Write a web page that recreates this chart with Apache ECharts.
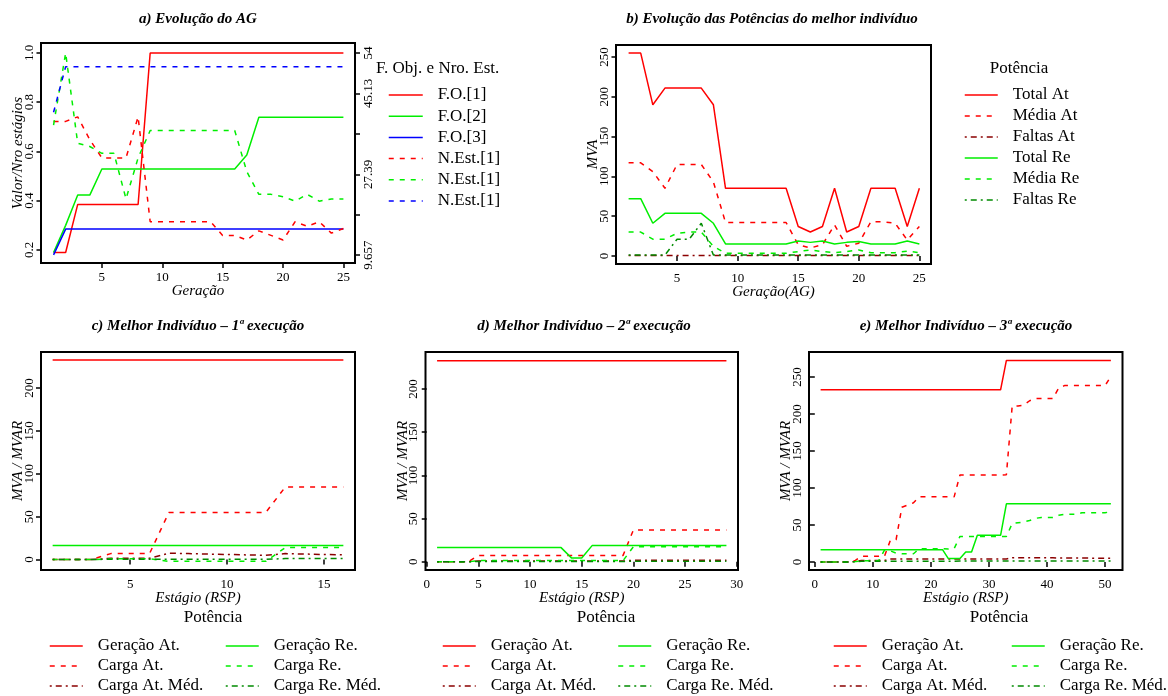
<!DOCTYPE html>
<html>
<head>
<meta charset="utf-8">
<script src="https://cdn.jsdelivr.net/npm/echarts@6.0.0/dist/echarts.min.js"></script>
<style>
  html, body { margin: 0; padding: 0; background: #fff; }
  #main { width: 1168px; height: 696px; }
</style>
</head>
<body>
<div id="main"></div>
<script>
// a) Evolucao do AG -- F.O. on the left scale, number of stages on the right one
var fo1 = [0.19, 0.19, 0.385, 0.385, 0.385, 0.385, 0.385, 0.385, 1, 1, 1, 1, 1, 1, 1, 1, 1, 1, 1, 1, 1, 1, 1, 1, 1]
var fo2 = [0.19, 0.30, 0.423, 0.423, 0.529, 0.529, 0.529, 0.529, 0.529, 0.529, 0.529, 0.529, 0.529, 0.529, 0.529, 0.529, 0.586, 0.739, 0.739, 0.739, 0.739, 0.739, 0.739, 0.739, 0.739]
var fo3 = [0.18, 0.285, 0.285, 0.285, 0.285, 0.285, 0.285, 0.285, 0.285, 0.285, 0.285, 0.285, 0.285, 0.285, 0.285, 0.285, 0.285, 0.285, 0.285, 0.285, 0.285, 0.285, 0.285, 0.285, 0.285]
var nEst1 = [39, 39, 40, 35, 31, 31, 31, 40, 17, 17, 17, 17, 17, 17, 14, 14, 13, 15, 14, 13, 17, 16, 17, 14.5, 15.5]
var nEst2 = [38.2, 54, 34.2, 33.5, 32, 32, 22, 31, 37, 37, 37, 37, 37, 37, 37, 37, 28, 23, 23, 22.5, 21.5, 23, 21.5, 22, 22]
var nEst3 = [41, 51, 51, 51, 51, 51, 51, 51, 51, 51, 51, 51, 51, 51, 51, 51, 51, 51, 51, 51, 51, 51, 51, 51, 51]
var maxEst = 54
var estTicks = [9.657, 18.5256, 27.3942, 36.2628, 45.1314, 54]
var estLabels = [9.657, 27.39, 45.13, 54]

// b) Evolucao das potencias do melhor individuo
var totalAt = [255, 255, 190, 211, 211, 211, 211, 190, 85, 85, 85, 85, 85, 85, 37, 30, 37, 85, 30, 37, 85, 85, 85, 37, 85]
var mediaAt = [117, 117, 106, 85, 115, 115, 115, 93, 42, 42, 42, 42, 42, 42, 14, 10, 14, 39, 12, 16, 43, 43, 41, 20, 37]
var faltasAt = [0.5, 0.5, 0.5, 0.5, 0.5, 0.5, 0.5, 0.5, 0.5, 0.5, 0.5, 0.5, 0.5, 0.5, 0.5, 0.5, 0.5, 0.5, 0.5, 0.5, 0.5, 0.5, 0.5, 0.5, 0.5]
var totalRe = [72, 72, 41, 53.5, 53.5, 53.5, 53.5, 41, 15, 15, 15, 15, 15, 15, 18.8, 17, 18.8, 15, 17, 18, 15, 15, 15, 18.8, 15]
var mediaRe = [30, 30, 21, 21, 28.5, 30, 30, 12, 3.3, 3.3, 3.3, 3.3, 3.3, 3.3, 5.4, 7.5, 5.4, 4, 5.4, 7.5, 4, 4, 4, 6, 4]
var faltasRe = [1, 1, 1, 1, 21, 21, 41, 1, 1, 1, 1, 1, 1, 1, 1, 1, 1, 1, 1, 1, 1, 1, 1, 1, 1]

// c) 1a execucao (16 estagios)
var genAtC = [232.8, 232.8, 232.8, 232.8, 232.8, 232.8, 232.8, 232.8, 232.8, 232.8, 232.8, 232.8, 232.8, 232.8, 232.8, 232.8]
var genReC = [16.5, 16.5, 16.5, 16.5, 16.5, 16.5, 16.5, 16.5, 16.5, 16.5, 16.5, 16.5, 16.5, 16.5, 16.5, 16.5]
var cargaAtC = [0, 0, 0, 7, 7, 7, 55, 55, 55, 55, 55, 55, 84.5, 84.5, 84.5, 84.5]
var cargaReC = [0, 0, 0, 1, 1, 1, -2, -2, -2, -2, -2, -2, 14, 14, 14, 14]
var cargaAtMedC = [0, 0, 0, 1.5, 1.5, 1.5, 7.5, 7, 6.5, 6, 5.5, 5, 7, 6.5, 6, 5.5]
var cargaReMedC = [0, 0, 0, 0.5, 0.5, 0.5, 0.3, 0.3, 0.3, 0.3, 0.3, 0.3, 1.2, 1.2, 1.2, 1.2]

// d) 2a execucao (29 estagios)
var genAtD = [232.8, 232.8, 232.8, 232.8, 232.8, 232.8, 232.8, 232.8, 232.8, 232.8, 232.8, 232.8, 232.8, 232.8, 232.8,
  232.8, 232.8, 232.8, 232.8, 232.8, 232.8, 232.8, 232.8, 232.8, 232.8, 232.8, 232.8, 232.8, 232.8]
var genReD = [16.5, 16.5, 16.5, 16.5, 16.5, 16.5, 16.5, 16.5, 16.5, 16.5, 16.5, 16.5, 16.5, 4.6, 4.6,
  18.8, 18.8, 18.8, 18.8, 18.8, 18.8, 18.8, 18.8, 18.8, 18.8, 18.8, 18.8, 18.8, 18.8]
var cargaAtD = [0, 0, 0, 0, 7.5, 7.5, 7.5, 7.5, 7.5, 7.5, 7.5, 7.5, 7.5, 7.5, 7.5,
  7.5, 7.5, 7.5, 7.5, 37, 37, 37, 37, 37, 37, 37, 37, 37, 37]
var cargaReD = [0, 0, 0, 0, 1.5, 1.5, 1.5, 1.5, 1.5, 1.5, 1.5, 1.5, 1.5, 1.5, 1.5,
  1.5, 1.5, 1.5, 1.5, 17.5, 17.5, 17.5, 17.5, 17.5, 17.5, 17.5, 17.5, 17.5, 17.5]
var cargaAtMedD = [0, 0, 0, 0, 1, 1, 1, 1, 1, 1, 1, 1, 1, 1, 1,
  1, 1, 1, 1, 1.8, 1.8, 1.8, 1.8, 1.8, 1.8, 1.8, 1.8, 1.8, 1.8]
var cargaReMedD = [0, 0, 0, 0, 0.5, 0.5, 0.5, 0.5, 0.5, 0.5, 0.5, 0.5, 0.5, 0.5, 0.5,
  0.5, 0.5, 0.5, 0.5, 0.8, 0.8, 0.8, 0.8, 0.8, 0.8, 0.8, 0.8, 0.8, 0.8]

// e) 3a execucao (51 estagios)
var genAtE = [232.8, 232.8, 232.8, 232.8, 232.8, 232.8, 232.8, 232.8, 232.8, 232.8,
  232.8, 232.8, 232.8, 232.8, 232.8, 232.8, 232.8, 232.8, 232.8, 232.8,
  232.8, 232.8, 232.8, 232.8, 232.8, 232.8, 232.8, 232.8, 232.8, 232.8,
  232.8, 232.8, 272.5, 272.5, 272.5, 272.5, 272.5, 272.5, 272.5, 272.5,
  272.5, 272.5, 272.5, 272.5, 272.5, 272.5, 272.5, 272.5, 272.5, 272.5, 272.5]
var genReE = [16.6, 16.6, 16.6, 16.6, 16.6, 16.6, 16.6, 16.6, 16.6, 16.6,
  16.6, 16.6, 16.6, 16.6, 16.6, 16.6, 16.6, 16.6, 16.6, 16.6,
  16.6, 16.6, 4.5, 4.5, 4.5, 13.5, 13.5, 36, 36, 36,
  36, 36, 78.6, 78.6, 78.6, 78.6, 78.6, 78.6, 78.6, 78.6,
  78.6, 78.6, 78.6, 78.6, 78.6, 78.6, 78.6, 78.6, 78.6, 78.6, 78.6]
var cargaAtE = [0, 0, 0, 0, 0, 0, 2, 7.7, 7.7, 7.7,
  7.7, 7.7, 29, 30, 74, 77, 80, 88, 88, 88,
  88, 88, 88, 88, 117.5, 117.5, 117.5, 117.5, 117.5, 117.5,
  117.5, 117.5, 118, 211, 211, 212, 218, 221, 221, 221,
  221, 235, 238.5, 238.5, 238.5, 238.5, 238.5, 238.5, 238.5, 238.5, 251]
var cargaReE = [0, 0, 0, 0, 0, 0, 0.5, 1.5, 1.5, 1.5,
  1.5, 16, 15, 12, 11, 11, 11, 18, 18, 18,
  18, 18, 17.5, 18, 34.5, 34.5, 34.5, 34.5, 34.5, 34.5,
  34.5, 34.5, 34.5, 52, 53, 54, 56, 59, 60, 60,
  60, 63, 64.5, 64.5, 64.5, 66.5, 66.5, 66.5, 66.5, 66.5, 68]
var cargaAtMedE = [0, 0, 0, 0, 0, 0, 0.5, 2, 2, 2,
  2, 2, 4, 4, 4, 4, 4, 4, 4, 4,
  4, 4, 4, 4, 4, 4, 4, 4, 4, 4,
  4, 4, 4, 5.8, 5.8, 5.7, 5.7, 5.6, 5.6, 5.5,
  5.5, 5.4, 5.4, 5.3, 5.3, 5.2, 5.2, 5.1, 5.1, 5, 5]
var cargaReMedE = [0, 0, 0, 0, 0, 0, 0.3, 0.8, 0.8, 0.8,
  0.8, 1, 1, 1, 1, 1, 1, 1, 1, 1,
  1, 1, 1, 1, 1.2, 1.2, 1.2, 1.2, 1.2, 1.2,
  1.2, 1.2, 1.2, 1.4, 1.4, 1.4, 1.4, 1.4, 1.4, 1.4,
  1.4, 1.4, 1.4, 1.4, 1.4, 1.4, 1.4, 1.4, 1.4, 1.4, 1.4]

var FONT = '"Liberation Serif", "DejaVu Serif", serif'
var RED = '#ff0000', GREEN = '#00ee00', BLUE = '#0000ff', DKRED = '#8b0000', DKGREEN = '#008b00'
var DASH = [5, 6]
var DOTDASH = [2, 4, 6, 4]

function pts (arr) {
  return arr.map(function (v, i) { return [i + 1, v] })
}

function xAx (grid, min, max, ticks, name) {
  return {
    type: 'value', gridIndex: grid, min: min, max: max,
    name: name, nameLocation: 'middle', nameGap: 21, nameMoveOverlap: false,
    nameTextStyle: { fontFamily: FONT, fontStyle: 'italic', fontSize: 15, color: '#000' },
    axisLine: { show: false },
    axisTick: { show: true, length: 5, lineStyle: { color: '#000', width: 1.5 }, customValues: ticks },
    axisLabel: { show: true, margin: 8, fontFamily: FONT, fontSize: 13, color: '#000', customValues: ticks },
    splitLine: { show: false }
  }
}

function yAx (grid, min, max, ticks, name, extra) {
  var ax = {
    type: 'value', gridIndex: grid, min: min, max: max, position: 'left',
    name: name, nameLocation: 'middle', nameGap: 15, nameRotate: 90, nameMoveOverlap: false,
    nameTextStyle: { fontFamily: FONT, fontStyle: 'italic', fontSize: 15, color: '#000' },
    axisLine: { show: false },
    axisTick: { show: true, length: 5, lineStyle: { color: '#000', width: 1.5 }, customValues: ticks },
    axisLabel: { show: true, rotate: 90, margin: 5, fontFamily: FONT, fontSize: 13, color: '#000', customValues: ticks },
    splitLine: { show: false }
  }
  if (extra) extra(ax)
  return ax
}

function ln (name, arr, color, dash, xi, yi) {
  return {
    type: 'line', name: name, data: pts(arr), xAxisIndex: xi, yAxisIndex: yi,
    symbol: 'none', showSymbol: false, silent: true, clip: true,
    lineStyle: { color: color, width: 1.5, type: dash || 'solid' },
    itemStyle: { color: color },
    emphasis: { disabled: true }
  }
}

function leg (left, top, names, iw, gap) {
  return {
    show: true, orient: 'vertical', left: left, top: top, padding: 0,
    itemWidth: iw, itemHeight: 14, itemGap: gap, selectedMode: false,
    data: names,
    formatter: function (n) { return n.split('#')[0] },
    lineStyle: { width: 1.5 },
    itemStyle: { opacity: 0, borderWidth: 0 },
    textStyle: { fontFamily: FONT, fontSize: 17, lineHeight: 17, color: '#000', padding: [0, 0, 0, 10] }
  }
}

function txt (s, x, y, font, align) {
  return {
    type: 'text', x: x, y: y, silent: true,
    style: { text: s, font: font, fill: '#000', align: align || 'center', verticalAlign: 'middle' }
  }
}

var myChart = echarts.init(document.getElementById('main'), null, { renderer: 'canvas' })

var gridBase = { show: true, borderColor: '#000', borderWidth: 2, backgroundColor: 'transparent', containLabel: false, outerBoundsMode: 'none' }
var grids = [
  { left: 41, top: 43, width: 314, height: 220 },
  { left: 616, top: 45, width: 315, height: 219 },
  { left: 41, top: 352, width: 314, height: 218 },
  { left: 425.5, top: 352, width: 312.5, height: 218 },
  { left: 809, top: 352, width: 313.5, height: 218 }
].map(function (g) { return Object.assign({}, gridBase, g) })

var aMin = 0.1472, aMax = 1.0406

var TITLE_FONT = 'italic bold 15px ' + FONT
var LEG_FONT = '17px ' + FONT

var option = {
  animation: false,
  backgroundColor: '#fff',
  textStyle: { fontFamily: FONT },
  grid: grids,
  xAxis: [
    xAx(0, -0.04, 25.96, [5, 10, 15, 20, 25], 'Geração'),
    xAx(1, -0.04, 25.96, [5, 10, 15, 20, 25], 'Geração(AG)'),
    xAx(2, 0.4, 16.6, [5, 10, 15], 'Estágio (RSP)'),
    xAx(3, -0.12, 30.12, [0, 5, 10, 15, 20, 25, 30], 'Estágio (RSP)'),
    xAx(4, -1, 53, [0, 10, 20, 30, 40, 50], 'Estágio (RSP)')
  ],
  yAxis: [
    yAx(0, aMin, aMax, [0.2, 0.4, 0.6, 0.8, 1.0], 'Valor/Nro estágios', function (ax) {
      ax.axisLabel.formatter = function (v) { return (+v).toFixed(1) }
    }),
    yAx(0, aMin * maxEst, aMax * maxEst, estTicks, '', function (ax) {
      ax.position = 'right'
      ax.axisLabel.margin = 7
      ax.axisLabel.customValues = estLabels
      ax.axisLabel.formatter = function (v) { return String(+(+v).toFixed(3)) }
    }),
    yAx(1, -10.2, 265.2, [0, 50, 100, 150, 200, 250], 'MVA'),
    yAx(2, -12.1, 242, [0, 50, 100, 150, 200], 'MVA / MVAR'),
    yAx(3, -9.4, 242.8, [0, 50, 100, 150, 200], 'MVA / MVAR'),
    yAx(4, -10.9, 283.9, [0, 50, 100, 150, 200, 250], 'MVA / MVAR')
  ],
  legend: [
    leg(388, 86.5, ['F.O.[1]', 'F.O.[2]', 'F.O.[3]', 'N.Est.[1]#r', 'N.Est.[1]#g', 'N.Est.[1]#b'], 34, 4.2),
    leg(964, 86.5, ['Total At', 'Média At', 'Faltas At', 'Total Re', 'Média Re', 'Faltas Re'], 33, 4),
    leg(49, 637.5, ['Geração At.', 'Carga At.', 'Carga At. Méd.'], 33, 3),
    leg(225, 637.5, ['Geração Re.', 'Carga Re.', 'Carga Re. Méd.'], 33, 3),
    leg(442, 637.5, ['Geração At.', 'Carga At.', 'Carga At. Méd.'], 33, 3),
    leg(617.5, 637.5, ['Geração Re.', 'Carga Re.', 'Carga Re. Méd.'], 33, 3),
    leg(833, 637.5, ['Geração At.', 'Carga At.', 'Carga At. Méd.'], 33, 3),
    leg(1011, 637.5, ['Geração Re.', 'Carga Re.', 'Carga Re. Méd.'], 33, 3)
  ],
  graphic: [
    txt('a) Evolução do AG', 198, 19, TITLE_FONT),
    txt('b) Evolução das Potências do melhor indivíduo', 772, 19, TITLE_FONT),
    txt('c) Melhor Indivíduo – 1ª execução', 198, 326, TITLE_FONT),
    txt('d) Melhor Indivíduo – 2ª execução', 584, 326, TITLE_FONT),
    txt('e) Melhor Indivíduo – 3ª execução', 966, 326, TITLE_FONT),
    txt('F. Obj. e Nro. Est.', 376, 69, LEG_FONT, 'left'),
    txt('Potência', 1019, 69, LEG_FONT),
    txt('Potência', 213, 618, LEG_FONT),
    txt('Potência', 606, 618, LEG_FONT),
    txt('Potência', 999, 618, LEG_FONT)
  ],
  series: [
    // a
    ln('F.O.[1]', fo1, RED, null, 0, 0),
    ln('F.O.[2]', fo2, GREEN, null, 0, 0),
    ln('F.O.[3]', fo3, BLUE, null, 0, 0),
    ln('N.Est.[1]#r', nEst1, RED, DASH, 0, 1),
    ln('N.Est.[1]#g', nEst2, GREEN, DASH, 0, 1),
    ln('N.Est.[1]#b', nEst3, BLUE, DASH, 0, 1),
    // b
    ln('Total At', totalAt, RED, null, 1, 2),
    ln('Média At', mediaAt, RED, DASH, 1, 2),
    ln('Faltas At', faltasAt, DKRED, DOTDASH, 1, 2),
    ln('Total Re', totalRe, GREEN, null, 1, 2),
    ln('Média Re', mediaRe, GREEN, DASH, 1, 2),
    ln('Faltas Re', faltasRe, DKGREEN, DOTDASH, 1, 2),
    // c
    ln('Geração At.', genAtC, RED, null, 2, 3),
    ln('Carga At.', cargaAtC, RED, DASH, 2, 3),
    ln('Carga At. Méd.', cargaAtMedC, DKRED, DOTDASH, 2, 3),
    ln('Geração Re.', genReC, GREEN, null, 2, 3),
    ln('Carga Re.', cargaReC, GREEN, DASH, 2, 3),
    ln('Carga Re. Méd.', cargaReMedC, DKGREEN, DOTDASH, 2, 3),
    // d
    ln('Geração At.', genAtD, RED, null, 3, 4),
    ln('Carga At.', cargaAtD, RED, DASH, 3, 4),
    ln('Carga At. Méd.', cargaAtMedD, DKRED, DOTDASH, 3, 4),
    ln('Geração Re.', genReD, GREEN, null, 3, 4),
    ln('Carga Re.', cargaReD, GREEN, DASH, 3, 4),
    ln('Carga Re. Méd.', cargaReMedD, DKGREEN, DOTDASH, 3, 4),
    // e
    ln('Geração At.', genAtE, RED, null, 4, 5),
    ln('Carga At.', cargaAtE, RED, DASH, 4, 5),
    ln('Carga At. Méd.', cargaAtMedE, DKRED, DOTDASH, 4, 5),
    ln('Geração Re.', genReE, GREEN, null, 4, 5),
    ln('Carga Re.', cargaReE, GREEN, DASH, 4, 5),
    ln('Carga Re. Méd.', cargaReMedE, DKGREEN, DOTDASH, 4, 5)
  ]
}

myChart.setOption(option)
</script>
</body>
</html>
